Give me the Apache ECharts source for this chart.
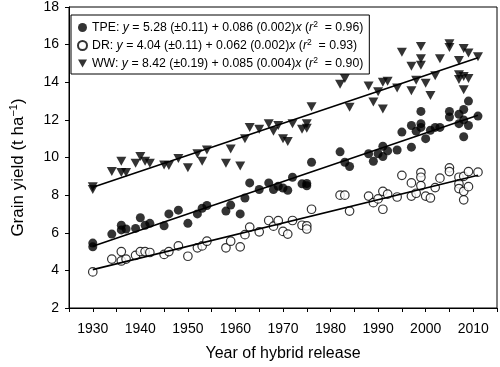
<!DOCTYPE html>
<html>
<head>
<meta charset="utf-8">
<script src="https://cdn.jsdelivr.net/npm/echarts@6/dist/echarts.min.js"></script>
<style>
    html, body { margin: 0; padding: 0; background: #fff; }
    #chart { width: 500px; height: 367px; }
</style>
</head>
<body>
<div id="chart"></div>
<script>
// year of release / grain yield (t/ha)
const tpeYears = [1930, 1930, 1934, 1936, 1936, 1937, 1939, 1940, 1941, 1942, 1945, 1946, 1948, 1950, 1952, 1953, 1954, 1958, 1959, 1961, 1962, 1963, 1965, 1967, 1968, 1969, 1970, 1971, 1972, 1974, 1975, 1975, 1976, 1982, 1983, 1984, 1988, 1989, 1990, 1991, 1991, 1992, 1994, 1995, 1997, 1997, 1998, 1999, 1999, 1999, 2000, 2001, 2002, 2003, 2005, 2005, 2007, 2007, 2008, 2008, 2008, 2009, 2009, 2011];
const tpeYield = [5.45, 5.25, 5.93, 6.4, 6.15, 6.2, 6.23, 6.8, 6.4, 6.5, 6.37, 7.0, 7.2, 6.5, 7.0, 7.3, 7.45, 7.15, 7.47, 7.0, 7.85, 8.65, 8.3, 8.65, 8.3, 8.47, 8.38, 8.26, 8.95, 8.6, 8.62, 8.5, 9.75, 10.3, 9.75, 9.52, 10.2, 9.8, 10.2, 10.6, 10.05, 10.35, 10.4, 11.35, 11.7, 10.55, 11.4, 12.45, 11.8, 11.6, 11.0, 11.45, 11.6, 11.6, 12.45, 12.15, 12.3, 11.8, 12.55, 12.0, 11.1, 13.0, 11.7, 12.2];

const drYears = [1930, 1934, 1936, 1936, 1937, 1939, 1940, 1941, 1942, 1945, 1946, 1948, 1950, 1952, 1953, 1954, 1958, 1959, 1961, 1962, 1963, 1965, 1967, 1968, 1969, 1970, 1971, 1972, 1974, 1975, 1975, 1976, 1982, 1983, 1984, 1988, 1989, 1990, 1991, 1991, 1992, 1994, 1995, 1997, 1997, 1998, 1999, 1999, 1999, 2000, 2001, 2002, 2003, 2005, 2005, 2007, 2007, 2007, 2008, 2008, 2008, 2009, 2009, 2011];
const drYield = [3.92, 4.6, 5.0, 4.5, 4.6, 4.8, 5.0, 5.0, 4.95, 4.85, 5.0, 5.3, 4.75, 5.2, 5.3, 5.55, 5.2, 5.55, 5.25, 5.9, 6.3, 6.05, 6.65, 6.35, 6.64, 6.07, 5.93, 6.65, 6.4, 6.37, 6.2, 7.25, 8.0, 8.0, 7.15, 7.95, 7.6, 7.8, 8.2, 7.25, 8.05, 7.9, 9.05, 8.65, 7.95, 8.1, 9.2, 8.95, 8.5, 7.95, 7.85, 8.4, 8.9, 9.45, 9.25, 8.95, 8.6, 8.35, 9.0, 8.2, 7.75, 9.25, 8.45, 9.22];

const wwYears = [1930, 1930, 1934, 1936, 1936, 1937, 1939, 1940, 1941, 1942, 1945, 1946, 1948, 1950, 1952, 1953, 1954, 1958, 1959, 1961, 1962, 1963, 1965, 1967, 1968, 1969, 1970, 1971, 1972, 1974, 1975, 1975, 1976, 1982, 1983, 1984, 1988, 1989, 1990, 1991, 1991, 1992, 1994, 1995, 1997, 1997, 1998, 1999, 1999, 1999, 2000, 2001, 2002, 2003, 2005, 2005, 2007, 2007, 2007, 2008, 2008, 2008, 2009, 2009, 2011];
const wwYield = [8.45, 8.3, 9.25, 9.8, 9.2, 9.2, 9.7, 10.05, 9.8, 9.7, 9.6, 9.58, 9.95, 9.45, 10.2, 9.8, 10.4, 9.7, 10.45, 9.55, 11.0, 11.6, 11.5, 11.8, 11.4, 11.7, 11.0, 10.85, 11.8, 11.5, 11.8, 11.55, 12.7, 13.9, 14.2, 12.67, 13.8, 12.95, 13.5, 14.0, 12.58, 14.05, 13.7, 15.6, 14.85, 13.55, 14.1, 15.9, 15.25, 14.9, 13.95, 13.3, 14.35, 15.25, 16.05, 15.85, 15.15, 14.4, 14.15, 15.8, 14.3, 13.6, 15.55, 14.2, 15.35];

// fitted lines, end points
const lineYears = [1930, 2011];
const tpeLine = [5.28, 12.25];
const drLine = [4.04, 9.06];
const wwLine = [8.42, 15.3];

const xTicks = [1930, 1940, 1950, 1960, 1970, 1980, 1990, 2000, 2010];

const FONT = 'Liberation Sans, Arial, Helvetica, sans-serif';
const downTri = 'path://M0,0 L10,0 L5,8.7 Z';

function pairs(xs, ys) {
    return xs.map((x, i) => [x, ys[i]]);
}

const legendText = {
    TPE: '{n|TPE: }{i|y}{n| = 5.28 (±0.11) + 0.086 (0.002)}{i|x}{n| (}{i|r}{s|2}{n|  = 0.96)}',
    DR: '{n|DR: }{i|y}{n| = 4.04 (±0.11) + 0.062 (0.002)}{i|x}{n| (}{i|r}{s|2}{n|  = 0.93)}',
    WW: '{n|WW: }{i|y}{n| = 8.42 (±0.19) + 0.085 (0.004)}{i|x}{n| (}{i|r}{s|2}{n|  = 0.90)}'
};

let chart = echarts.init(document.getElementById('chart'), null, { renderer: 'canvas' });
let option = {
    backgroundColor: '#fff',
    animation: false,
    textStyle: { fontFamily: FONT, color: '#000' },
    grid: {
        left: 62,
        right: 3,
        top: 6,
        bottom: 55,
        show: true,
        borderColor: '#000',
        borderWidth: 1
    },
    legend: {
        data: ['TPE', 'DR', 'WW'],
        orient: 'vertical',
        left: 71,
        top: 15,
        padding: [5, 6, 3, 6],
        itemGap: 3,
        itemWidth: 9,
        itemHeight: 9,
        borderColor: '#000',
        borderWidth: 1,
        backgroundColor: '#fff',
        formatter: function (name) {
            return legendText[name];
        },
        textStyle: {
            fontFamily: FONT,
            color: '#000',
            rich: {
                n: { fontSize: 12.3, fontFamily: FONT, color: '#000', lineHeight: 15 },
                i: { fontSize: 12.3, fontFamily: FONT, fontStyle: 'italic', color: '#000', lineHeight: 15 },
                s: { fontSize: 8.5, fontFamily: FONT, color: '#000', verticalAlign: 'top', lineHeight: 15, padding: [0, 0, 6, 0] }
            }
        }
    },
    xAxis: {
        type: 'value',
        min: 1925,
        max: 2015,
        interval: 5,
        name: 'Year of hybrid release',
        nameLocation: 'middle',
        nameGap: 38,
        nameTextStyle: { fontSize: 16, color: '#000', fontFamily: FONT },
        axisLine: { show: true, lineStyle: { color: '#000', width: 1 } },
        axisTick: {
            show: true,
            inside: false,
            length: 4,
            lineStyle: { color: '#000' },
            interval: function (i, v) { return xTicks.indexOf(v) >= 0; }
        },
        axisLabel: {
            fontSize: 14,
            color: '#000',
            margin: 14,
            fontFamily: FONT,
            formatter: function (v) { return xTicks.indexOf(v) >= 0 ? String(v) : ''; }
        },
        splitLine: { show: false }
    },
    yAxis: {
        type: 'value',
        min: 2,
        max: 18,
        interval: 2,
        name: '{a|Grain yield (t ha}{s|−1}{a|)}',
        nameLocation: 'middle',
        nameRotate: 90,
        nameGap: 41,
        nameTextStyle: {
            padding: [0, 20, 0, 0],
            rich: {
                a: { fontSize: 17, color: '#000', fontFamily: FONT, lineHeight: 20 },
                s: { fontSize: 11, color: '#000', fontFamily: FONT, verticalAlign: 'top', lineHeight: 20, padding: [0, 0, 7, 0] }
            }
        },
        axisLine: { show: true, lineStyle: { color: '#000', width: 1 } },
        axisTick: { show: true, inside: false, length: 4, lineStyle: { color: '#000' } },
        axisLabel: { fontSize: 14, color: '#000', margin: 10, fontFamily: FONT },
        splitLine: { show: false }
    },
    series: [
        {
            name: 'WW',
            type: 'scatter',
            symbol: downTri,
            symbolSize: [10, 9],
            itemStyle: { color: '#000' },
            data: pairs(wwYears, wwYield),
            z: 2
        },
        {
            name: 'TPE',
            type: 'scatter',
            symbol: 'circle',
            symbolSize: 9,
            itemStyle: { color: '#000' },
            data: pairs(tpeYears, tpeYield),
            z: 2
        },
        {
            name: 'DR',
            type: 'scatter',
            symbol: 'circle',
            symbolSize: 8.5,
            itemStyle: { color: '#fff', borderColor: '#000', borderWidth: 1.2 },
            data: pairs(drYears, drYield),
            z: 2
        },
        {
            name: 'fitTPE',
            type: 'line',
            showSymbol: false,
            lineStyle: { color: '#000', width: 1.6 },
            data: pairs(lineYears, tpeLine),
            z: 3
        },
        {
            name: 'fitDR',
            type: 'line',
            showSymbol: false,
            lineStyle: { color: '#000', width: 1.6 },
            data: pairs(lineYears, drLine),
            z: 3
        },
        {
            name: 'fitWW',
            type: 'line',
            showSymbol: false,
            lineStyle: { color: '#000', width: 1.6 },
            data: pairs(lineYears, wwLine),
            z: 3
        }
    ]
};
chart.setOption(option);
window.onresize = chart.resize;
</script>
</body>
</html>
